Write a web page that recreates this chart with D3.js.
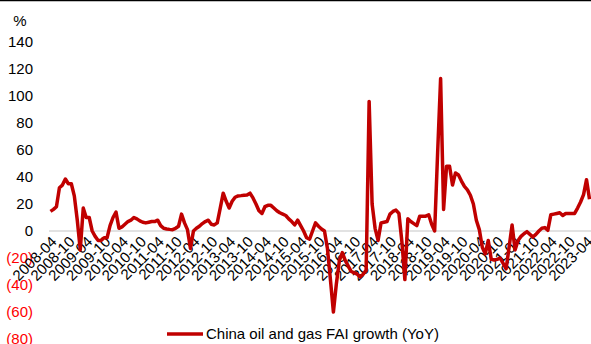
<!DOCTYPE html>
<html>
<head>
<meta charset="utf-8">
<script src="https://cdn.jsdelivr.net/npm/d3@7"></script>
<style>
  html, body { margin: 0; padding: 0; background: #fff; }
  svg { display: block; }
  text { font-family: "Liberation Sans", Arial, sans-serif; }
</style>
</head>
<body>
<svg id="chart" width="591" height="344"></svg>
<script>
// Monthly series, April 2008 through May 2023
const startMonth = new Date(2008, 3, 1);
const endMonth = new Date(2023, 5, 1);
const months = d3.timeMonth.range(startMonth, endMonth).map(d3.timeFormat("%Y-%m"));

// China oil and gas fixed-asset investment growth, % YoY
const faiGrowth = [
  14.5, 16, 18, 32, 34, 38.5, 35, 35, 26, 8,
  -14, 17, 10, 10, 0, -4, -7, -7, -5, -5,
  4, 10, 14, 2, 3, 5, 7, 8, 10, 9,
  7.5, 6.5, 6, 6.5, 7, 7, 8, 4, 2, 1.5,
  1.2, 1, 2, 3.5, 12.5, 6, 1, -13, 0, 2,
  3.5, 5.5, 7, 8, 5, 4.5, 6, 17, 28, 22,
  17, 22, 25, 26, 26.2, 26.5, 26.7, 28, 24.5, 20,
  15, 13, 18, 19, 19, 17, 15, 13.5, 12.5, 11.5,
  9, 7, 4.5, 8, 4, 0, -5, -6, 0, 6,
  3.5, 1.5, 0, -13, -36, -60, -39, -22, -16, -22,
  -26, -30, -31, -32, -34, -32, -29, 96, 20, 2,
  -7, 6, 6.5, 7, 12.5, 14.5, 15.5, 13, -8, -36,
  9, 7, 5.5, 4, 11, 11, 11, 12, 5, 0,
  58, 113, 16, 48, 48, 34, 43, 41.5, 37, 33,
  30.5, 26.5, 20, 8, 1, -12, -17, -7, -21, -21.5,
  -21, -20, -24, -28, -12, 4.5, -14, -7, -4, -2,
  -0.5, -2.5, -4.5, -2.5, 0, 2, 2.5, 0.5, 12, 12.5,
  13, 13.5, 11.5, 13, 13, 13, 13, 17, 21.5, 27, 38, 23.5
];

const xTickLabels = [
  "2008-04", "2008-10", "2009-04", "2009-10", "2010-04", "2010-10",
  "2011-04", "2011-10", "2012-04", "2012-10", "2013-04", "2013-10",
  "2014-04", "2014-10", "2015-04", "2015-10", "2016-04", "2016-10",
  "2017-04", "2017-10", "2018-04", "2018-10", "2019-04", "2019-10",
  "2020-04", "2020-10", "2021-04", "2021-10", "2022-04", "2022-10", "2023-04"
];
const yTickValues = [140, 120, 100, 80, 60, 40, 20, 0, -20, -40, -60, -80];

const seriesName = "China oil and gas FAI growth (YoY)";
const lineColor = "#C00000";

const svg = d3.select("#chart");
const W = 591, H = 344;

// frame rule along the top edge
svg.append("line")
  .attr("x1", 0).attr("x2", W).attr("y1", 0.6).attr("y2", 0.6)
  .attr("stroke", "#000").attr("stroke-width", 1.5);

const x = d3.scalePoint().domain(months).range([49, 591]).padding(0.5);
const y = d3.scaleLinear().domain([-80, 140]).range([339, 42]);

// y axis labels, negatives in parentheses and red
const fmt = v => v < 0 ? `(${Math.abs(v)})` : `${v}`;
const yAxis = svg.append("g")
  .attr("transform", "translate(33,0)")
  .call(d3.axisLeft(y).tickValues(yTickValues).tickSize(0).tickPadding(0).tickFormat(fmt));
yAxis.select(".domain").remove();
yAxis.selectAll("text")
  .attr("font-size", 15)
  .attr("font-family", "Liberation Sans, Arial, sans-serif")
  .attr("fill", d => d < 0 ? "#FF0000" : "#000");

svg.append("text")
  .attr("x", 20).attr("y", 26)
  .attr("text-anchor", "middle")
  .attr("font-size", 15)
  .text("%");

// zero line
svg.append("line")
  .attr("x1", 49).attr("x2", 591)
  .attr("y1", y(0)).attr("y2", y(0))
  .attr("stroke", "#D9D9D9").attr("stroke-width", 1.5);

// x axis labels, rotated, hanging from the zero line
const xAxis = svg.append("g")
  .attr("transform", `translate(0,${y(0)})`)
  .call(d3.axisBottom(x).tickValues(xTickLabels).tickSize(0));
xAxis.select(".domain").remove();
xAxis.selectAll(".tick text")
  .attr("font-size", 15)
  .attr("font-family", "Liberation Sans, Arial, sans-serif")
  .attr("fill", "#000")
  .attr("text-anchor", "end")
  .attr("x", 0).attr("y", 0).attr("dy", "0.35em")
  .attr("transform", "translate(3,8) rotate(-45)");

// series line
const line = d3.line()
  .x((d, i) => x(months[i]))
  .y(d => y(d));

svg.append("path")
  .datum(faiGrowth)
  .attr("fill", "none")
  .attr("stroke", lineColor)
  .attr("stroke-width", 3.5)
  .attr("stroke-linejoin", "round")
  .attr("d", line);

// legend
const legend = svg.append("g").attr("transform", "translate(167,334)");
legend.append("line")
  .attr("x1", 0).attr("x2", 36).attr("y1", 0).attr("y2", 0)
  .attr("stroke", lineColor).attr("stroke-width", 3.5);
legend.append("text")
  .attr("x", 39).attr("y", 4.5)
  .attr("font-size", 15)
  .attr("fill", "#000")
  .text(seriesName);
</script>
</body>
</html>
